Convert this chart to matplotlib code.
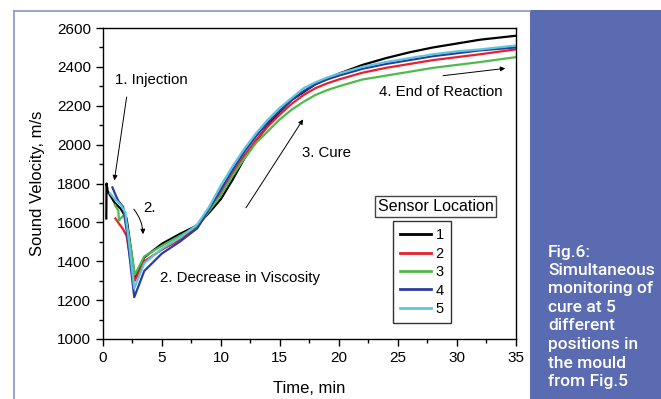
import matplotlib
matplotlib.use("Agg")
import matplotlib.pyplot as plt
from matplotlib.patches import Rectangle
from matplotlib.lines import Line2D
from matplotlib.ticker import MultipleLocator

plt.rcParams['font.family'] = ['Liberation Sans', 'DejaVu Sans']

# ---- data ----
labels = ["1", "2", "3", "4", "5"]
colors = ["#000000", "#e8202a", "#4cbb4c", "#2e3b9e", "#5cc6de"]

common_t = [3.5, 5, 6.5, 8, 9, 10, 11, 12, 13, 14, 15, 16, 17, 18, 19, 20,
            22, 24, 26, 28, 30, 32, 35]

t1 = [0.28, 0.3, 0.4, 1.0, 1.5, 2.0, 2.4, 2.7] + common_t
v1 = [1620, 1800, 1760, 1700, 1670, 1620, 1450, 1310,
      1420, 1490, 1540, 1585, 1650, 1720, 1820, 1930, 2020, 2100, 2170, 2230,
      2270, 2310, 2340, 2365, 2410, 2445, 2475, 2500, 2520, 2540, 2560]

t2 = [1.05, 1.4, 1.7, 2.0, 2.3, 2.7] + common_t
v2 = [1620, 1590, 1565, 1530, 1420, 1300,
      1400, 1460, 1510, 1575, 1660, 1750, 1850, 1945, 2025, 2095, 2155, 2210,
      2255, 2290, 2315, 2335, 2370, 2395, 2415, 2435, 2450, 2465, 2490]

t3 = [1.0, 1.3, 1.35, 1.8, 2.1, 2.4, 2.7] + common_t
v3 = [1690, 1660, 1610, 1640, 1560, 1450, 1330,
      1425, 1480, 1530, 1580, 1660, 1740, 1840, 1930, 2010, 2070, 2130, 2180,
      2220, 2255, 2280, 2300, 2335, 2355, 2375, 2395, 2410, 2425, 2450]

t4 = [0.8, 1.0, 1.3, 1.7, 2.0, 2.3, 2.65] + common_t
v4 = [1780, 1750, 1710, 1680, 1560, 1400, 1215,
      1350, 1440, 1500, 1570, 1670, 1770, 1870, 1965, 2045, 2115, 2175, 2230,
      2275, 2310, 2335, 2355, 2390, 2415, 2435, 2455, 2470, 2485, 2500]

t5 = [0.6, 1.0, 1.5, 1.9, 2.2, 2.65] + common_t
v5 = [1750, 1720, 1690, 1650, 1500, 1260,
      1390, 1465, 1520, 1590, 1680, 1790, 1890, 1980, 2060, 2130, 2190, 2240,
      2290, 2320, 2345, 2365, 2400, 2425, 2445, 2465, 2480, 2490, 2510]

series_t = [t1, t2, t3, t4, t5]
series_v = [v1, v2, v3, v4, v5]

caption = ["Fig.6:", "Simultaneous", "monitoring of", "cure at 5", "different",
           "positions in", "the mould", "from Fig.5"]

W, H = 661, 399
fig = plt.figure(figsize=(W / 100, H / 100), dpi=100)

# frame + side panel
fig.add_artist(Rectangle((530 / W, 0), (W - 530) / W, (H - 10) / H,
                         transform=fig.transFigure, facecolor="#5a6bb1",
                         edgecolor="none", zorder=0))
fig.add_artist(Line2D([14 / W, 14 / W], [0, 1 - 11 / H], transform=fig.transFigure,
                      color="#8595d2", lw=1.2))
fig.add_artist(Line2D([14 / W, 530 / W], [1 - 11 / H, 1 - 11 / H],
                      transform=fig.transFigure, color="#8595d2", lw=1.2))

for i, line in enumerate(caption):
    fig.text(548 / W, 1 - (252 + i * 18.5) / H, line, color="white",
             fontsize=12.5, fontfamily="Roboto", fontweight=500,
             va="center", ha="left")

ax = fig.add_axes([103 / W, 1 - 339 / H, 412.7 / W, 311 / H])
for t, v, c, lab in zip(series_t, series_v, colors, labels):
    ax.plot(t, v, color=c, lw=1.6, label=lab)

ax.set_xlim(0, 35)
ax.set_ylim(1000, 2600)
ax.xaxis.set_major_locator(MultipleLocator(5))
ax.xaxis.set_minor_locator(MultipleLocator(2.5))
ax.yaxis.set_major_locator(MultipleLocator(200))
ax.yaxis.set_minor_locator(MultipleLocator(100))
ax.tick_params(which="both", direction="out", labelsize=11, width=1)
ax.tick_params(which="major", length=5)
ax.tick_params(which="minor", length=3)
for s in ax.spines.values():
    s.set_linewidth(1)
ax.set_xlabel("Time, min", fontsize=12, labelpad=12)
ax.set_ylabel("Sound Velocity, m/s", fontsize=12, labelpad=9)

# annotations
fs = 10.8
ax.annotate("", xy=(0.93, 1802), xytext=(2.04, 2259),
            arrowprops=dict(arrowstyle="-|>", color="black", lw=0.7,
                            mutation_scale=7))
ax.text(1.0, 2330, "1. Injection", fontsize=fs, ha="left", va="center")
ax.annotate("", xy=(3.39, 1525), xytext=(2.46, 1679),
            arrowprops=dict(arrowstyle="-|>", color="black", lw=0.7,
                            mutation_scale=7,
                            connectionstyle="arc3,rad=-0.2"))
ax.text(3.45, 1674, "2.", fontsize=fs, ha="left", va="center")
ax.text(4.83, 1314, "2. Decrease in Viscosity", fontsize=fs, ha="left", va="center")
ax.annotate("", xy=(17.1, 2142), xytext=(12.0, 1663),
            arrowprops=dict(arrowstyle="-|>", color="black", lw=0.7,
                            mutation_scale=7))
ax.text(16.9, 1957, "3. Cure", fontsize=fs, ha="left", va="center")
ax.annotate("", xy=(34.35, 2394), xytext=(28.6, 2353),
            arrowprops=dict(arrowstyle="-|>", color="black", lw=0.7,
                            mutation_scale=7))
ax.text(23.4, 2270, "4. End of Reaction", fontsize=fs, ha="left", va="center")

# legend
ax.text(0.806, 0.427, "Sensor Location", transform=ax.transAxes, fontsize=11.5,
        ha="center", va="center",
        bbox=dict(boxstyle="square,pad=0.18", facecolor="white",
                  edgecolor="#444444", lw=1))
leg = ax.legend(loc="upper left", bbox_to_anchor=(0.703, 0.379),
                fontsize=10.5, frameon=True, fancybox=False, borderpad=0.5,
                handlelength=2.1, handletextpad=0.3, labelspacing=0.3,
                borderaxespad=0)
leg.get_frame().set_edgecolor("black")
leg.get_frame().set_linewidth(1)
for h in leg.get_lines():
    h.set_linewidth(2)

fig.savefig("out.png", dpi=100)
